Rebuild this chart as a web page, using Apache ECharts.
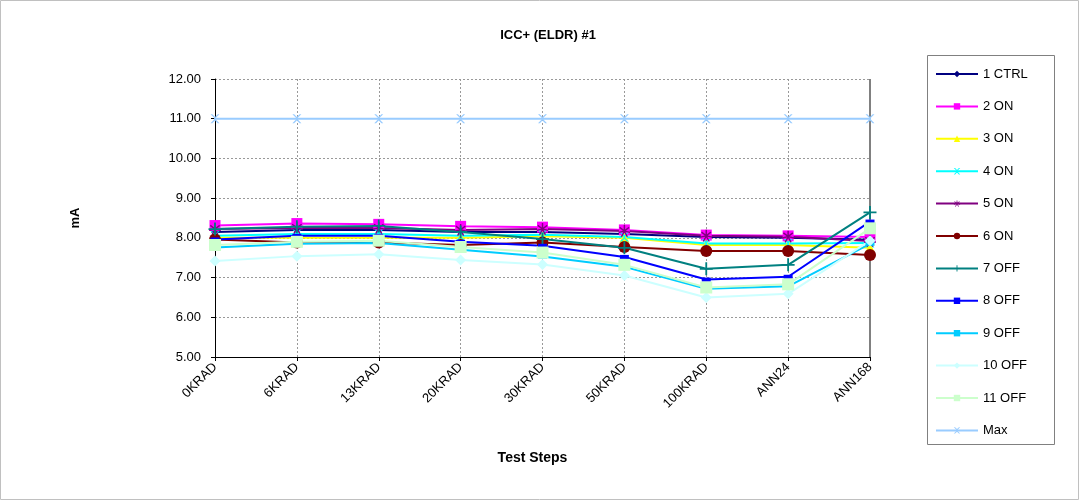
<!DOCTYPE html>
<html><head><meta charset="utf-8">
<script src="https://cdn.jsdelivr.net/npm/echarts@6/dist/echarts.min.js"></script>
<style>html,body{margin:0;padding:0;background:#fff}#c{width:1080px;height:501px}</style>
</head><body><div id="c"></div>
<script>
const categories = ['0KRAD','6KRAD','13KRAD','20KRAD','30KRAD','50KRAD','100KRAD','ANN24','ANN168'];
const yTicks = [5,6,7,8,9,10,11,12];
const seriesNames = ['1 CTRL','2 ON','3 ON','4 ON','5 ON','6 ON','7 OFF','8 OFF','9 OFF','10 OFF','11 OFF','Max'];
const ctrl1 = [8.15, 8.20, 8.20, 8.15, 8.15, 8.10, 8.02, 8.00, 7.95];
const on2   = [8.31, 8.36, 8.34, 8.29, 8.27, 8.20, 8.07, 8.05, 8.02];
const on3   = [8.00, 8.00, 8.00, 8.00, 8.04, 8.00, 7.82, 7.82, 7.75];
const on4   = [8.05, 8.10, 8.10, 8.05, 8.08, 8.02, 7.86, 7.86, 7.87];
const on5   = [8.22, 8.25, 8.25, 8.20, 8.22, 8.17, 8.05, 8.03, 7.92];
const on6   = [7.96, 7.88, 7.88, 7.82, 7.88, 7.77, 7.67, 7.67, 7.57];
const off7  = [8.22, 8.28, 8.30, 8.15, 7.97, 7.75, 7.22, 7.32, 8.64];
const off8  = [7.96, 8.05, 8.05, 7.90, 7.80, 7.52, 6.95, 7.02, 8.41];
const off9  = [7.76, 7.85, 7.87, 7.70, 7.53, 7.27, 6.72, 6.78, 7.85];
const off10 = [7.42, 7.54, 7.59, 7.44, 7.33, 7.05, 6.50, 6.59, 7.93];
const off11 = [7.82, 7.90, 7.93, 7.77, 7.63, 7.32, 6.75, 6.83, 8.24];
const maxv  = [11, 11, 11, 11, 11, 11, 11, 11, 11];

const values = [ctrl1,on2,on3,on4,on5,on6,off7,off8,off9,off10,off11,maxv];
const colors = ['#000080','#FF00FF','#FFFF00','#00FFFF','#800080','#800000','#008080','#0000FF','#00CCFF','#CCFFFF','#CCFFCC','#99CCFF'];
const X = 'path://M0,0L2,0L5,3L8,0L10,0L6,4L6,6L10,10L8,10L5,7L2,10L0,10L4,6L4,4Z';
const STAR = 'path://M4.4,0H5.6V3.6L8.6,1.4L9.3,2.4L6.2,4.6L10,5.4L9.7,6.6L5.9,5.6L8,9.3L7,9.9L5,6.3L3,9.9L2,9.3L4.1,5.6L0.3,6.6L0,5.4L3.8,4.6L0.7,2.4L1.4,1.4L4.4,3.6Z';
const PLUS = 'path://M4.3,0H5.7V4.3H10V5.7H5.7V10H4.3V5.7H0V4.3H4.3Z';
const DASH = 'path://M0,0H10V4H0Z';
const symbols = ['diamond','rect','triangle',X,STAR,'circle',PLUS,DASH,DASH,'diamond','rect',X];
const sizes = [8,11,10,9,12,12,13,[9,4],[9,4],11,12,9];

const chart = echarts.init(document.getElementById('c'));
const series = seriesNames.map((n,i)=>({
  name:n, type:'line', data:values[i], symbol:symbols[i], symbolSize:sizes[i],
  showAllSymbol:true,
  lineStyle:{color:colors[i], width:2}, itemStyle:{color:colors[i]},
  emphasis:{disabled:true}, animation:false
}));
chart.setOption({
  animation:false,
  textStyle:{fontFamily:'Liberation Sans, Arial, sans-serif'},
  title:{text:'ICC+ (ELDR) #1', left:543, top:24, textAlign:'center',
    textStyle:{fontSize:13, fontWeight:'bold', color:'#000', fontFamily:'Liberation Sans, Arial, sans-serif'}},
  grid:{left:215, right:210, top:79, bottom:144, containLabel:false},
  legend:{orient:'vertical', left:930, top:62.5, itemWidth:42, itemHeight:8, itemGap:19.4,
    data:seriesNames, textStyle:{fontSize:13, color:'#000', fontFamily:'Liberation Sans, Arial, sans-serif'},
    selectedMode:false},
  xAxis:{type:'category', data:categories, boundaryGap:false,
    name:'Test Steps', nameLocation:'middle', nameGap:94,
    nameTextStyle:{fontSize:14, fontWeight:'bold', color:'#000', padding:[0,0,0,-20]},
    axisLine:{lineStyle:{color:'#000', width:1}},
    axisTick:{show:true, alignWithLabel:true, lineStyle:{color:'#000'}, length:4},
    axisLabel:{rotate:45, fontSize:13, color:'#000', margin:8},
    splitLine:{show:true, lineStyle:{color:'#999', type:[2,2], width:1}}},
  yAxis:{type:'value', min:5, max:12, interval:1,
    name:'mA', nameLocation:'middle', nameGap:133, nameRotate:90,
    nameTextStyle:{fontSize:13, fontWeight:'bold', color:'#000'},
    axisLine:{show:true, lineStyle:{color:'#000', width:1}},
    axisTick:{show:true, lineStyle:{color:'#000'}, length:4},
    axisLabel:{fontSize:13, color:'#000', margin:14, formatter:v=>v.toFixed(2)},
    splitLine:{show:true, lineStyle:{color:'#999', type:[2,2], width:1}}},
  graphic:[
    {type:'rect', shape:{x:0.5,y:0.5,width:1078,height:499}, style:{fill:'none', stroke:'#c0c0c0', lineWidth:1}, silent:true, z:-1},
    {type:'rect', shape:{x:927.5,y:55.5,width:127,height:389}, style:{fill:'none', stroke:'#808080', lineWidth:1}, silent:true},
    {type:'line', shape:{x1:870,y1:79,x2:870,y2:357}, style:{stroke:'#808080', lineWidth:2}, silent:true, z:1}
  ],
  series:series
});
</script></body></html>
